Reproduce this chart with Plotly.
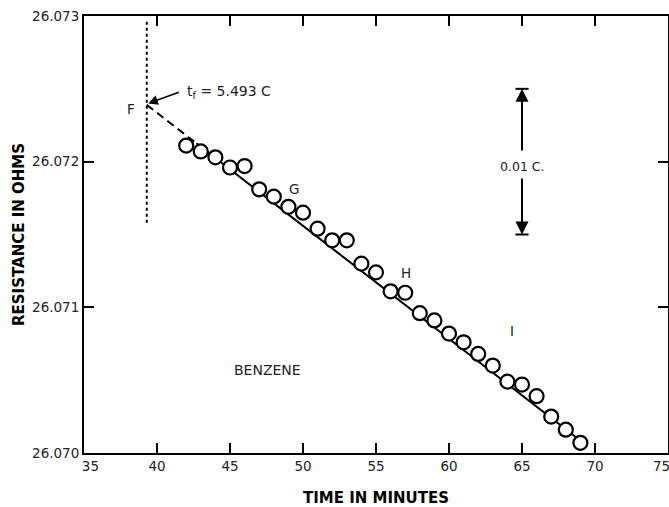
import plotly.graph_objects as go

# ---- data ----
time_min = [42, 43, 44, 45, 46, 47, 48, 49, 50, 51, 52, 53, 54, 55,
            56, 57, 58, 59, 60, 61, 62, 63, 64, 65, 66, 67, 68, 69]
resistance = [26.07211, 26.07207, 26.07203, 26.07196, 26.07197, 26.07181, 26.07176,
              26.07169, 26.07165, 26.07154, 26.07146, 26.07146, 26.07130, 26.07124,
              26.07111, 26.07110, 26.07096, 26.07091, 26.07082, 26.07076, 26.07068,
              26.07060, 26.07049, 26.07047, 26.07039, 26.07025, 26.07016, 26.07007]

# extrapolated fit: point F and line
F_x, F_y = 39.3, 26.07239
fit_slope = -7.76e-5
dash_x = [F_x, 42.7]
solid_x = [42.7, 69.1]
fit_dash_y = [F_y + fit_slope * (x - F_x) for x in dash_x]
fit_solid_y = [F_y + fit_slope * (x - F_x) for x in solid_x]
vline_y = [26.07158, 26.07296]

x_ticks = [35, 40, 45, 50, 55, 60, 65, 70, 75]
x_tick_text = ["\u00a0\u00a0\u00a035", "40", "45", "50", "55", "60", "65", "70",
               "75\u00a0\u00a0\u00a0"]
y_ticks = [26.070, 26.071, 26.072, 26.073]
y_tick_text = ["26.070", "26.071", "26.072", "26.073"]

scale_x = 65
scale_top, scale_bot = 26.0725, 26.0715

FONT = "DejaVu Sans"

fig = go.Figure()

fig.add_trace(go.Scatter(x=[F_x, F_x], y=vline_y, mode="lines",
                         line=dict(color="black", width=2, dash="3px,3px"),
                         showlegend=False, hoverinfo="skip"))
fig.add_trace(go.Scatter(x=dash_x, y=fit_dash_y, mode="lines",
                         line=dict(color="black", width=2, dash="8px,5px"),
                         showlegend=False, hoverinfo="skip"))
fig.add_trace(go.Scatter(x=solid_x, y=fit_solid_y, mode="lines",
                         line=dict(color="black", width=2),
                         showlegend=False, hoverinfo="skip"))
fig.add_trace(go.Scatter(x=time_min, y=resistance, mode="markers",
                         marker=dict(symbol="circle", size=14, color="white",
                                     line=dict(color="black", width=2.2)),
                         showlegend=False))

# scale bar 0.01 C.
fig.add_trace(go.Scatter(x=[scale_x - 0.45, scale_x + 0.45, None, scale_x - 0.45, scale_x + 0.45],
                         y=[scale_top, scale_top, None, scale_bot, scale_bot], mode="lines",
                         line=dict(color="black", width=2), showlegend=False, hoverinfo="skip"))

TXT = dict(family=FONT, size=13.5, color="#222")
annots = []
annots.append(dict(x=scale_x, y=scale_top, ax=scale_x, ay=26.072066, xref="x", yref="y",
                   axref="x", ayref="y", showarrow=True, arrowhead=2, arrowsize=1.3,
                   arrowwidth=2, arrowcolor="black", text=""))
annots.append(dict(x=scale_x, y=scale_bot, ax=scale_x, ay=26.071895, xref="x", yref="y",
                   axref="x", ayref="y", showarrow=True, arrowhead=2, arrowsize=1.3,
                   arrowwidth=2, arrowcolor="black", text=""))
annots.append(dict(x=scale_x, y=26.07197, text="0.01 C.", showarrow=False,
                   font=dict(family=FONT, size=12.5, color="#222")))
# t_f arrow
annots.append(dict(x=F_x + 0.1, y=F_y + 0.00001, ax=41.6, ay=26.07248, xref="x", yref="y",
                   axref="x", ayref="y", showarrow=True, arrowhead=2, arrowsize=1.2,
                   arrowwidth=1.6, arrowcolor="black", text=""))
annots.append(dict(x=41.9, y=26.07248, text="t<sub>f</sub> = 5.493 C", showarrow=False,
                   xanchor="left", font=dict(family=FONT, size=14, color="#222")))
annots.append(dict(x=38.2, y=26.07236, text="F", showarrow=False, font=TXT))
annots.append(dict(x=49.4, y=26.07181, text="G", showarrow=False, font=TXT))
annots.append(dict(x=57.05, y=26.071236, text="H", showarrow=False, font=TXT))
annots.append(dict(x=64.3, y=26.070838, text="I", showarrow=False, font=TXT))
annots.append(dict(x=47.6, y=26.07057, text="BENZENE", showarrow=False,
                   font=dict(family=FONT, size=14, color="#222")))

axis_common = dict(showline=True, linecolor="black", linewidth=2, mirror="ticks",
                   ticks="inside", ticklen=10, tickwidth=2, tickcolor="black",
                   showgrid=False, zeroline=False, ticklabeloverflow="allow",
                   tickfont=dict(family=FONT, size=13.5, color="#222"))

fig.update_layout(
    width=669, height=507,
    margin=dict(l=84, r=1, t=16, b=54),
    paper_bgcolor="white", plot_bgcolor="white",
    annotations=annots,
    xaxis=dict(range=[35, 75], tickvals=x_ticks, ticktext=x_tick_text, **axis_common,
               title=dict(text="<b>TIME IN MINUTES</b>", standoff=20,
                          font=dict(family=FONT, size=15, color="black"))),
    yaxis=dict(range=[26.070, 26.073], tickvals=y_ticks, ticktext=y_tick_text, **axis_common,
               title=dict(text="<b>RESISTANCE IN OHMS</b>", standoff=4,
                          font=dict(family=FONT, size=15, color="black"))),
)
fig.update_xaxes(automargin=False)
fig.update_yaxes(automargin=False)

fig.write_html("out.html")
